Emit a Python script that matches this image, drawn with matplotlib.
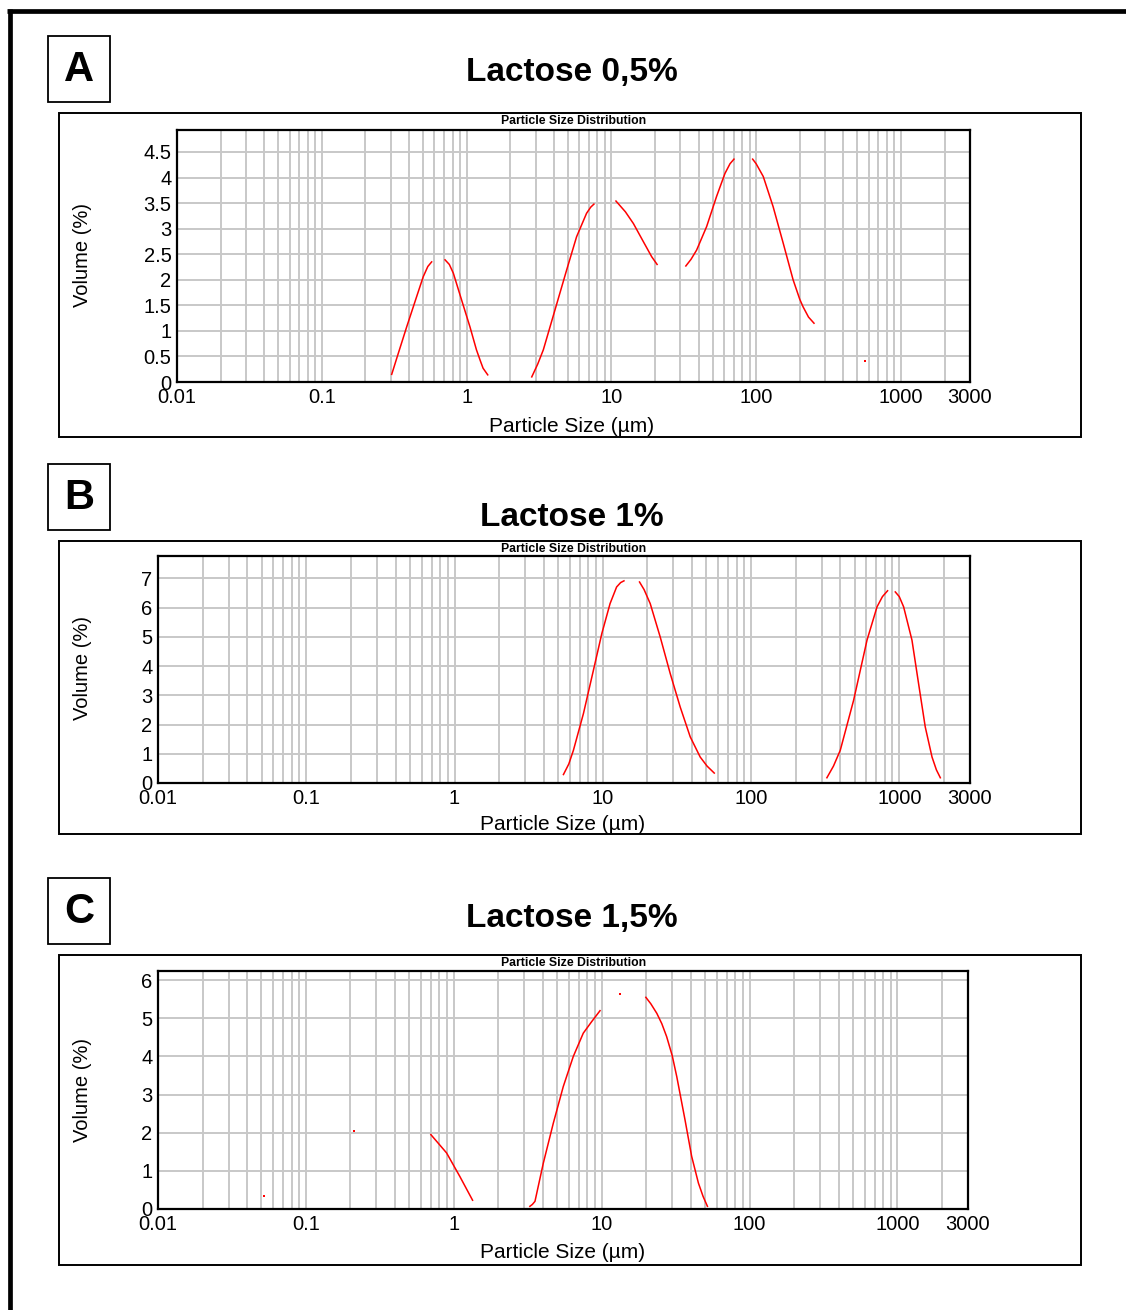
import numpy as np
import matplotlib.pyplot as plt
from matplotlib.lines import Line2D
from matplotlib.patches import Rectangle

plt.rcParams['font.family'] = ['Liberation Sans', 'DejaVu Sans']

W, H = 1126, 1310
nan = np.nan

# --- datos (tamaño en µm, volumen en %) ---
# Lactose 0,5%
a_size = [0.304, 0.312, 0.329, 0.386, 0.452, 0.502, 0.54, 0.574, nan,
          0.71, 0.76, 0.81, 0.925, 1.055, 1.17, 1.25, 1.30, 1.40, nan,
          2.82, 3.1, 3.39, 4.08, 4.91, 5.75, 6.74, 7.2, 7.58, nan,
          10.76, 12.5, 14.2, 16.6, 19.0, 20.7, nan,
          32.7, 35.5, 38.8, 45.5, 53.3, 60.9, 66, 70.3, nan,
          94.6, 100, 112, 131, 154, 180, 200, 211, 230, 251]
a_vol = [0.15, 0.25, 0.46, 1.08, 1.67, 2.06, 2.26, 2.35, nan,
         2.39, 2.30, 2.13, 1.60, 1.08, 0.63, 0.40, 0.27, 0.14, nan,
         0.10, 0.35, 0.63, 1.41, 2.19, 2.84, 3.30, 3.42, 3.48, nan,
         3.54, 3.33, 3.10, 2.75, 2.45, 2.30, nan,
         2.27, 2.40, 2.58, 3.04, 3.63, 4.08, 4.27, 4.36, nan,
         4.36, 4.27, 4.02, 3.43, 2.71, 2.00, 1.62, 1.47, 1.27, 1.15]
a_pts_size = [564]
a_pts_vol = [0.42]

# Lactose 1%
b_size = [5.43, 5.9, 6.34, 7.41, 8.65, 9.86, 11.2, 12.4, 13.2, 13.9, nan,
          17.7, 19.0, 20.9, 24.4, 28.5, 33.3, 38.9, 45.4, 50.5, 56.5, nan,
          325, 360, 400, 492, 606, 708, 770, 834, nan,
          940, 1000, 1070, 1130, 1218, 1350, 1497, 1663, 1780, 1892]
b_vol = [0.29, 0.65, 1.12, 2.38, 3.86, 5.12, 6.14, 6.71, 6.86, 6.92, nan,
         6.88, 6.62, 6.14, 5.0, 3.75, 2.60, 1.58, 0.89, 0.58, 0.34, nan,
         0.18, 0.58, 1.12, 2.83, 4.89, 6.03, 6.38, 6.58, nan,
         6.54, 6.38, 6.03, 5.55, 4.89, 3.40, 1.92, 0.89, 0.45, 0.18]
b_pts_size = []
b_pts_vol = []

# Lactose 1,5%
c_size = [0.700, 0.894, 1.10, 1.34, nan,
          3.27, 3.40, 3.54, 4.03, 4.71, 5.50, 6.43, 7.51, 8.55, 9.75, nan,
          19.9, 21.5, 23.6, 25.5, 27.5, 30.0, 32.2, 36.6, 40.6, 45.1, 48.5, 51.9]
c_vol = [1.95, 1.47, 0.85, 0.23, nan,
         0.07, 0.12, 0.20, 1.20, 2.25, 3.21, 4.0, 4.61, 4.91, 5.20, nan,
         5.55, 5.38, 5.13, 4.86, 4.52, 4.02, 3.47, 2.34, 1.38, 0.68, 0.33, 0.07]
c_pts_size = [0.0522, 0.210, 13.3]
c_pts_vol = [0.33, 2.05, 5.63]

x_ticks = [0.01, 0.1, 1, 10, 100, 1000, 3000]
x_labels = ['0.01', '0.1', '1', '10', '100', '1000', '3000']
a_yticks = [0, 0.5, 1, 1.5, 2, 2.5, 3, 3.5, 4, 4.5]
b_yticks = [0, 1, 2, 3, 4, 5, 6, 7]
c_yticks = [0, 1, 2, 3, 4, 5, 6]


def rect(l, t, r, b):
    return [l / W, 1 - b / H, (r - l) / W, (b - t) / H]


def caja(l, t, r, b, lw=1.3):
    fig.add_artist(Rectangle((l / W, 1 - b / H), (r - l) / W, (b - t) / H,
                             transform=fig.transFigure, fill=False,
                             lw=lw, edgecolor='black'))


def txt(x, y, s, **kw):
    fig.text(x / W, 1 - y / H, s, ha='center', va='center', **kw)


def panel(box, size, vol, px, py, yticks, ymax):
    ax = fig.add_axes(rect(*box))
    ax.set_xscale('log')
    ax.set_xlim(0.01, 3000)
    ax.set_ylim(0, ymax)
    minors = [m * d for d in [0.01, 0.1, 1, 10, 100, 1000] for m in range(2, 10)
              if m * d < 3000]
    ax.set_xticks(x_ticks)
    ax.set_xticklabels(x_labels)
    ax.set_xticks(minors, minor=True)
    ax.set_yticks(yticks)
    ax.set_yticklabels(['%g' % v for v in yticks])
    ax.tick_params(which='both', length=0, labelsize=14.5, colors='black')
    ax.tick_params(axis='x', pad=4)
    ax.tick_params(axis='y', pad=4)
    ax.grid(True, which='both', color='#c8c8c8', lw=1.4)
    ax.set_axisbelow(True)
    for s in ax.spines.values():
        s.set_linewidth(1.6)
    ax.plot(size, vol, color='red', lw=1.1)
    if px:
        ax.plot(px, py, ls='none', marker='s', ms=2, color='red', mew=0)
    return ax


fig = plt.figure(figsize=(W / 100, H / 100), dpi=100)

# borde exterior grueso (izquierda y arriba)
fig.add_artist(Line2D([9.5 / W, 9.5 / W], [0, 1 - 9 / H], transform=fig.transFigure,
                      color='black', lw=3.4, solid_capstyle='butt'))
fig.add_artist(Line2D([7 / W, 1], [1 - 11 / H, 1 - 11 / H], transform=fig.transFigure,
                      color='black', lw=3.4, solid_capstyle='butt'))

paneles = [
    dict(letter='A', title='Lactose 0,5%', title_y=73, box_t=36, frame=(59, 113, 1081, 437),
         ax=(177, 130, 970, 382), size=a_size, vol=a_vol, px=a_pts_size, py=a_pts_vol,
         yt=a_yticks, ymax=4.93, xl=(572, 427), yl=(82, 255), psd_y=121),
    dict(letter='B', title='Lactose 1%', title_y=517, box_t=464, frame=(59, 541, 1081, 834),
         ax=(158, 556, 970, 783), size=b_size, vol=b_vol, px=b_pts_size, py=b_pts_vol,
         yt=b_yticks, ymax=7.77, xl=(563, 824), yl=(82, 668), psd_y=549),
    dict(letter='C', title='Lactose 1,5%', title_y=919, box_t=878, frame=(59, 955, 1081, 1265),
         ax=(158, 971, 968, 1209), size=c_size, vol=c_vol, px=c_pts_size, py=c_pts_vol,
         yt=c_yticks, ymax=6.24, xl=(563, 1252), yl=(82, 1090), psd_y=963),
]

for p in paneles:
    caja(48, p['box_t'], 110, p['box_t'] + 66, lw=1.3)
    txt(79, p['box_t'] + 34, p['letter'], fontsize=30, fontweight='bold')
    txt(572, p['title_y'], p['title'], fontsize=24, fontweight='bold')
    caja(*p['frame'], lw=1.4)
    panel(p['ax'], p['size'], p['vol'], p['px'], p['py'], p['yt'], p['ymax'])
    txt(574, p['psd_y'], 'Particle Size Distribution', fontsize=8.8, fontweight='bold')
    txt(p['xl'][0], p['xl'][1], 'Particle Size (µm)', fontsize=15)
    txt(p['yl'][0], p['yl'][1], 'Volume (%)', fontsize=14.5, rotation=90)

fig.savefig('out.png', dpi=100)
